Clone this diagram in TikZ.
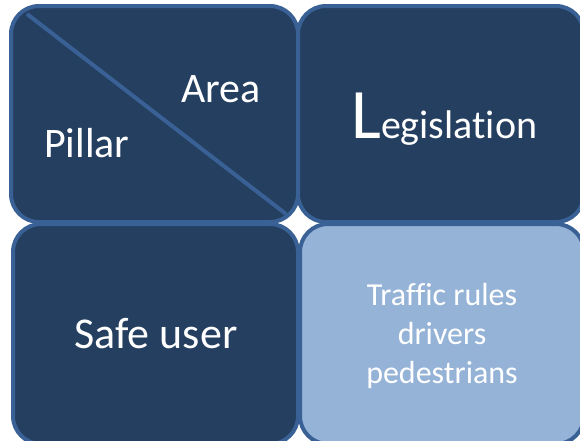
\documentclass[tikz,border=0pt]{standalone}
\usepackage{fontspec}
\setmainfont[Ligatures=NoCommon]{Carlito}
\definecolor{boxdark}{HTML}{243F60}
\definecolor{boxlight}{HTML}{95B3D7}
\definecolor{boxedge}{HTML}{3A6195}
\begin{document}
\begin{tikzpicture}[x=1pt,y=-1pt,
  tile/.style={draw=boxedge,line width=4pt,rounded corners=28pt},
  lbl/.style={text=white,inner sep=0pt}]
\useasboundingbox (0,0) rectangle (580,440);
\clip (0,0) rectangle (580,440);
\filldraw[tile,fill=boxdark] (11,6) rectangle (298,222);
\filldraw[tile,fill=boxdark] (298,6) rectangle (584,222);
\filldraw[tile,fill=boxdark] (13,224) rectangle (298,444);
\filldraw[tile,fill=boxlight] (300,224) rectangle (584,444);
\coordinate (d1) at (27,14);
\coordinate (d2) at (286,214);
\draw[boxedge,line width=4pt] (d1) -- (d2);
\node[lbl,anchor=base west,font=\fontsize{42}{48}\selectfont] (area) at (181,102) {Area};
\node[lbl,anchor=base west,font=\fontsize{42}{48}\selectfont] (pillar) at (44,157) {Pillar};
\node[lbl,anchor=base west,font=\fontsize{40}{48}\selectfont] (leg) at (351,138) {{\fontsize{71}{80}\selectfont L}egislation};
\node[lbl,anchor=base,font=\fontsize{44}{50}\selectfont] (safe) at (156,348) {Safe user};
\node[lbl,anchor=base,font=\fontsize{32}{38}\selectfont] (t1) at (442,305) {Traffic rules};
\node[lbl,anchor=base,font=\fontsize{32}{38}\selectfont] (t2) at (442,344) {drivers};
\node[lbl,anchor=base,font=\fontsize{32}{38}\selectfont] (t3) at (442,383) {pedestrians};
\end{tikzpicture}
\end{document}
